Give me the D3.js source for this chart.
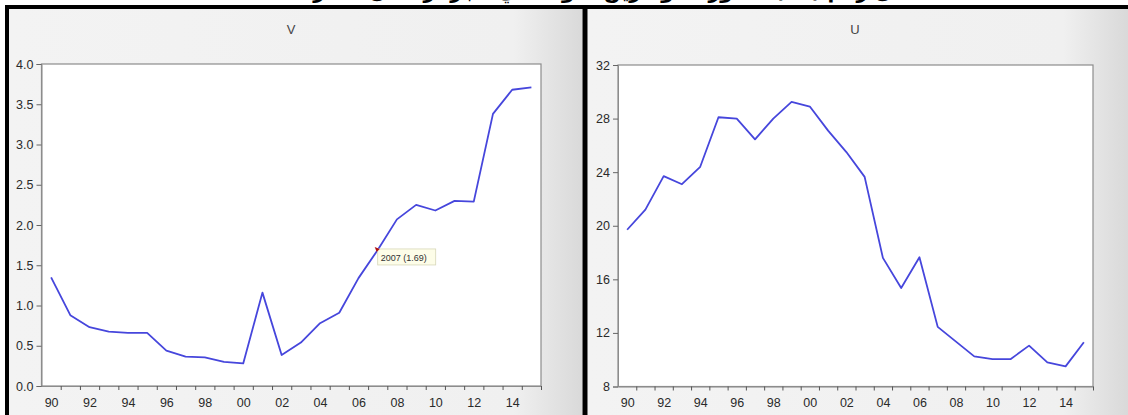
<!DOCTYPE html>
<html lang="en">
<head>
    <meta charset="UTF-8">
    <title>V and U</title>
    <style>
        body { margin: 0; background: #fff; }
        svg { display: block; font-family: "Liberation Sans", Arial, sans-serif; }
    </style>
</head>
<body>
    <script src="https://d3js.org/d3.v7.min.js"></script>
    <div id="chart"></div>
    <script>
        const W = 1128, H = 415

        // data
        const years = [1990, 1991, 1992, 1993, 1994, 1995, 1996, 1997, 1998, 1999, 2000, 2001, 2002,
            2003, 2004, 2005, 2006, 2007, 2008, 2009, 2010, 2011, 2012, 2013, 2014, 2015]
        const vValues = [1.35, 0.88, 0.73, 0.675, 0.66, 0.66, 0.44, 0.365, 0.355, 0.30, 0.28, 1.16, 0.385,
            0.54, 0.78, 0.91, 1.34, 1.69, 2.07, 2.25, 2.18, 2.30, 2.29, 3.38, 3.68, 3.71]
        const uValues = [19.7, 21.2, 23.7, 23.1, 24.4, 28.1, 28.0, 26.45, 28.0, 29.25, 28.9, 27.1, 25.5,
            23.65, 17.6, 15.35, 17.65, 12.45, 11.35, 10.25, 10.05, 10.05, 11.05, 9.8, 9.5, 11.3]
        const vTicks = [0, 0.5, 1.0, 1.5, 2.0, 2.5, 3.0, 3.5, 4.0]
        const uTicks = [8, 12, 16, 20, 24, 28, 32]
        const yearLabels = [1990, 1992, 1994, 1996, 1998, 2000, 2002, 2004, 2006, 2008, 2010, 2012, 2014]
        const tipYear = 2007

        const svg = d3.select("#chart").append("svg")
            .attr("width", W).attr("height", H)

        const defs = svg.append("defs")
        const grad = defs.append("linearGradient").attr("id", "bg").attr("x1", 0).attr("x2", 1).attr("y1", 0).attr("y2", 0)
        grad.append("stop").attr("offset", "0%").attr("stop-color", "#f3f3f3")
        grad.append("stop").attr("offset", "88%").attr("stop-color", "#f0f0f0")
        grad.append("stop").attr("offset", "100%").attr("stop-color", "#d9d9d9")

        // caption above the frame, cut off by the top edge as in the source
        svg.append("text")
            .attr("x", 550).attr("y", -2)
            .attr("text-anchor", "middle")
            .attr("direction", "rtl")
            .style("font-family", "'DejaVu Sans', sans-serif")
            .style("font-size", "20px")
            .style("font-weight", "bold")
            .text("الشكل رقم (02): تطور المؤشرين V و U في الجزائر خلال الفترة 1990 - 2015")

        // panel backgrounds
        svg.append("rect").attr("x", 9).attr("y", 9).attr("width", 573.5).attr("height", H - 9).attr("fill", "url(#bg)")
        svg.append("rect").attr("x", 587.5).attr("y", 9).attr("width", W - 587.5).attr("height", H - 9).attr("fill", "url(#bg)")

        // black frame
        svg.append("rect").attr("x", 5).attr("y", 5).attr("width", W - 5).attr("height", 4).attr("fill", "#000")
        svg.append("rect").attr("x", 5).attr("y", 5).attr("width", 4).attr("height", H - 5).attr("fill", "#000")
        svg.append("rect").attr("x", 582.5).attr("y", 5).attr("width", 5).attr("height", H - 5).attr("fill", "#000")

        const drawPanel = (box, title, titleX, values, ticks, fmt, tip) => {
            const x = d3.scaleLinear().domain([years[0], years[years.length - 1] + 1]).range([box.left, box.right])
            const y = d3.scaleLinear().domain([ticks[0], ticks[ticks.length - 1]]).range([box.bottom, box.top])

            svg.append("text")
                .attr("x", titleX).attr("y", 34)
                .attr("text-anchor", "middle")
                .attr("fill", "#444")
                .style("font-size", "13px")
                .text(title)

            svg.append("rect")
                .attr("x", box.left).attr("y", box.top)
                .attr("width", box.right - box.left).attr("height", box.bottom - box.top)
                .attr("fill", "#fff").attr("stroke", "#8c8c8c").attr("stroke-width", 1.2)

            const yAxis = svg.append("g")
                .attr("transform", `translate(${box.left}, 0)`)
                .call(d3.axisLeft(y).tickValues(ticks).tickFormat(fmt).tickSize(5).tickPadding(3))
            yAxis.select(".domain").attr("stroke", "#8c8c8c")
            yAxis.selectAll("line").attr("stroke", "#666")
            yAxis.selectAll("text").attr("fill", "#2a2a2a").style("font-size", "12.5px")

            const bounds = years.slice(1).concat([years[years.length - 1] + 1])
            const xTicks = svg.append("g")
                .attr("transform", `translate(0, ${box.bottom})`)
                .call(d3.axisBottom(x).tickValues(bounds).tickFormat("").tickSize(4).tickSizeOuter(0))
            xTicks.select(".domain").attr("stroke", "#8c8c8c")
            xTicks.selectAll("line").attr("stroke", "#555")

            const xLabels = svg.append("g")
                .attr("transform", `translate(0, ${box.bottom})`)
                .call(d3.axisBottom(x).tickValues(yearLabels.map(d => d + 0.5))
                    .tickFormat(d => String(Math.floor(d) % 100).padStart(2, "0")).tickSize(0).tickPadding(12))
            xLabels.select(".domain").remove()
            xLabels.selectAll("text").attr("fill", "#2a2a2a").style("font-size", "12.5px")

            const line = d3.line()
                .x((d, i) => x(years[i] + 0.5))
                .y(d => y(d))

            svg.append("path")
                .datum(values)
                .attr("d", line)
                .attr("fill", "none")
                .attr("stroke", "#4646dc")
                .attr("stroke-width", 1.8)
                .attr("stroke-linejoin", "round")

            if (tip) {
                const i = years.indexOf(tipYear)
                const px = x(tipYear + 0.5), py = y(values[i])
                svg.append("rect")
                    .attr("x", px).attr("y", py - 1)
                    .attr("width", 58).attr("height", 16)
                    .attr("fill", "#fdfde8").attr("stroke", "#d6d6b8").attr("stroke-width", 0.8)
                svg.append("text")
                    .attr("x", px + 3).attr("y", py + 11)
                    .attr("fill", "#333")
                    .style("font-size", "9px")
                    .text(`${tipYear}  (${values[i].toFixed(2)})`)
                svg.append("path")
                    .attr("d", `M ${px - 3},${py - 3} L ${px + 2},${py - 1} L ${px - 1},${py + 2} Z`)
                    .attr("fill", "#b01010")
            }
        }

        drawPanel({ left: 41.5, right: 541, top: 64, bottom: 386 }, "V", 291, vValues, vTicks, d3.format(".1f"), true)
        drawPanel({ left: 618, right: 1093, top: 65, bottom: 386.5 }, "U", 855, uValues, uTicks, d3.format("d"), false)
    </script>
</body>
</html>
